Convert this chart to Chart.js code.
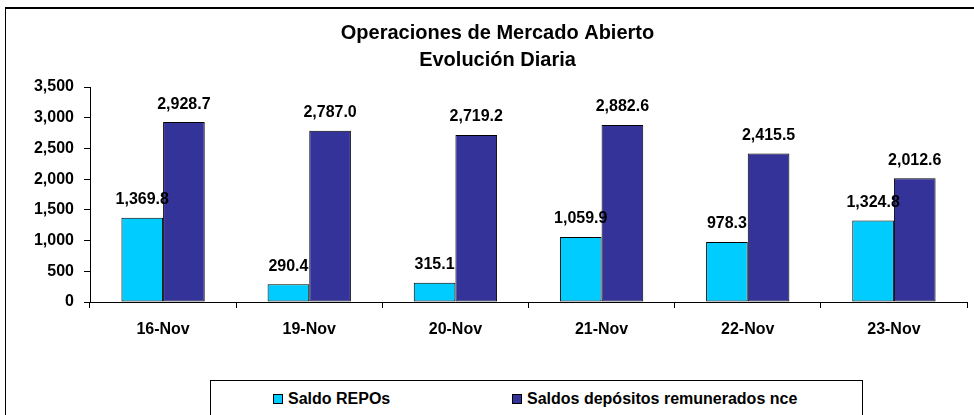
<!DOCTYPE html>
<html>
<head>
<meta charset="utf-8">
<script src="https://cdn.jsdelivr.net/npm/chart.js@4/dist/chart.umd.min.js"></script>
<style>
  body { margin: 0; background: #fff; font-family: "Liberation Sans", Arial, sans-serif; }
  #wrap { position: relative; width: 974px; height: 415px; overflow: hidden; }
  #frame { position: absolute; left: 5px; top: 7px; width: 990px; height: 430px; border: 1px solid #000; border-top-width: 2px; }
  #chart { position: absolute; left: 0; top: 0; }
  #legend { position: absolute; left: 210px; top: 380px; width: 651px; height: 50px; border: 1px solid #000; background: #fff; }
  .item { position: absolute; top: 9px; font: bold 16px "Liberation Sans", Arial, sans-serif; color: #000; white-space: nowrap; }
  .item span.box { display: inline-block; width: 8px; height: 8px; border: 1px solid #000; margin-right: 5px; vertical-align: 0px; }
</style>
</head>
<body>
<div id="wrap">
  <div id="frame"></div>
  <canvas id="chart" width="974" height="415"></canvas>
  <div id="legend"></div>
</div>
<script>
// datos
const fechas = ["16-Nov", "19-Nov", "20-Nov", "21-Nov", "22-Nov", "23-Nov"];
const saldoRepos = [1369.8, 290.4, 315.1, 1059.9, 978.3, 1324.8];
const saldoDepositos = [2928.7, 2787.0, 2719.2, 2882.6, 2415.5, 2012.6];
const seriesNames = ["Saldo REPOs", "Saldos depósitos remunerados nce"];
const seriesColors = ["#00CCFF", "#333399"];
const titulo = ["Operaciones de Mercado Abierto", "Evolución Diaria"];

const FONT = "'Liberation Sans', Arial, sans-serif";

function fmt(v, dec) {
  return v.toLocaleString("en-US", { minimumFractionDigits: dec, maximumFractionDigits: dec });
}

// etiquetas sobre las barras
const valueLabels = {
  id: "valueLabels",
  afterDatasetsDraw(chart) {
    const ctx = chart.ctx;
    ctx.save();
    ctx.font = "bold 16px " + FONT;
    ctx.fillStyle = "#000";
    ctx.textAlign = "center";
    ctx.textBaseline = "middle";
    chart.data.datasets.forEach((ds, i) => {
      chart.getDatasetMeta(i).data.forEach((bar, j) => {
        ctx.fillText(fmt(ds.data[j], 1), bar.x, bar.y - 18);
      });
    });
    ctx.restore();
  }
};

new Chart(document.getElementById("chart"), {
  type: "bar",
  data: {
    labels: fechas,
    datasets: [
      { label: seriesNames[0], data: saldoRepos, backgroundColor: seriesColors[0] },
      { label: seriesNames[1], data: saldoDepositos, backgroundColor: seriesColors[1] }
    ]
  },
  options: {
    responsive: false,
    animation: false,
    layout: { padding: { left: 28, right: 7, top: 0, bottom: 0 } },
    datasets: {
      bar: {
        categoryPercentage: 0.57,
        barPercentage: 1.0,
        borderColor: "#000",
        borderWidth: 1,
        borderSkipped: false
      }
    },
    plugins: {
      legend: { display: false },
      tooltip: { enabled: false },
      title: {
        display: true,
        text: titulo,
        color: "#000",
        font: { family: FONT, size: 20, weight: "bold", lineHeight: 1.35 },
        padding: { top: 20, bottom: 13 }
      }
    },
    scales: {
      x: {
        grid: { offset: true, drawOnChartArea: false, drawTicks: true, tickLength: 6, color: "#000" },
        border: { color: "#000", width: 1 },
        ticks: { color: "#000", font: { family: FONT, size: 16, weight: "bold" }, padding: 12 },
        afterFit(scale) { scale.height = 113; }
      },
      y: {
        min: 0,
        max: 3500,
        ticks: {
          stepSize: 500,
          color: "#000",
          font: { family: FONT, size: 16, weight: "bold" },
          padding: 10,
          callback: (v) => fmt(v, 0)
        },
        grid: { drawOnChartArea: false, drawTicks: true, tickLength: 6, color: "#000" },
        border: { color: "#000", width: 1 },
        afterFit(scale) { scale.width = 62; }
      }
    }
  },
  plugins: [valueLabels]
});

// leyenda
const legend = document.getElementById("legend");
const itemLeft = [62, 301];
seriesNames.forEach((name, i) => {
  const it = document.createElement("div");
  it.className = "item";
  it.style.left = itemLeft[i] + "px";
  const box = document.createElement("span");
  box.className = "box";
  box.style.background = seriesColors[i];
  it.appendChild(box);
  it.appendChild(document.createTextNode(name));
  legend.appendChild(it);
});
</script>
</body>
</html>
